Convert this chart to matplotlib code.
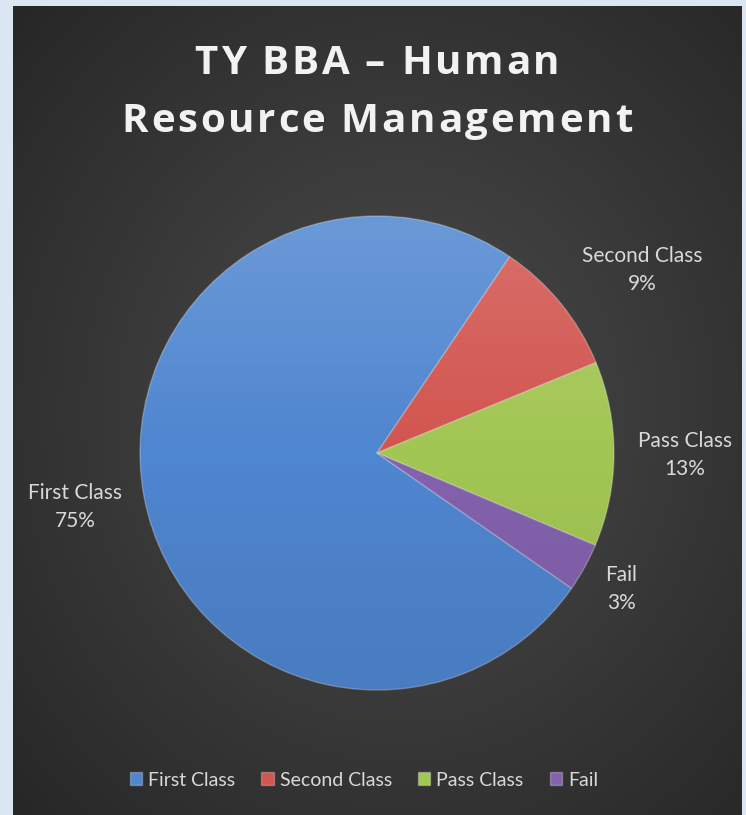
import numpy as np
import matplotlib
matplotlib.use("Agg")
import matplotlib.pyplot as plt
from matplotlib.colors import to_rgb
from matplotlib.font_manager import FontProperties

# ---- data ----
categories = ["First Class", "Second Class", "Pass Class", "Fail"]
values = [74.8, 9.3, 12.6, 3.3]
colors = ["#4f86d0", "#d2554f", "#a2c653", "#8462ae"]
title_lines = ["TY BBA \u2013 Human", "Resource Management"]

W, H, DPI = 746, 815, 100
fig = plt.figure(figsize=(W / DPI, H / DPI), dpi=DPI)
fig.patch.set_facecolor("#dce6f2")

# ---- dark gradient background ----
bx0, bx1, by0, by1 = 13, 742, 6, 815
bg = fig.add_axes([bx0 / W, 1 - by1 / H, (bx1 - bx0) / W, (by1 - by0) / H])
bg.set_axis_off()
yy, xx = np.mgrid[0:400, 0:360]
cx, cy = 190, 200
r = np.sqrt(((xx - cx) / 360) ** 2 + ((yy - cy) / 400) ** 2)
r = np.clip(r / 0.72, 0, 1)
c0 = np.array(to_rgb("#4c4c4c"))
c1 = np.array(to_rgb("#272727"))
img = c0[None, None, :] * (1 - r[..., None]) + c1[None, None, :] * r[..., None]
bg.imshow(img, aspect="auto", extent=(0, 1, 0, 1), interpolation="bilinear")
bg.set_xlim(0, 1)
bg.set_ylim(0, 1)

# ---- pie ----
R = 237
cxp, cyp = 377, 453
lim = 1.4
side = 2 * lim * R
ax = fig.add_axes([(cxp - side / 2) / W, (H - cyp - side / 2) / H, side / W, side / H])
ax.set_xlim(-lim, lim)
ax.set_ylim(-lim, lim)
ax.set_aspect("equal")
ax.set_axis_off()

total = sum(values)
labels = [f"{c}\n{round(v / total * 100):.0f}%" for c, v in zip(categories, values)]
wedges, texts = ax.pie(values, colors=colors, startangle=-34.8, counterclock=False,
                       labels=labels, labeldistance=1.30,
                       wedgeprops=dict(edgecolor=(1, 1, 1, 0.28), linewidth=1.0),
                       textprops=dict(color="#d9d9d9", fontsize=15, family="Lato",
                                      ha="center", va="center"))
# label placement (distance in radii, angle in degrees)
label_pos = [(1.294, 190.1), (1.36, 34.6), (1.30, -0.4), (1.18, -29.1)]
for t, (d, a) in zip(texts, label_pos):
    ang = np.deg2rad(a)
    t.set_position((d * np.cos(ang), d * np.sin(ang)))
    t.set_ha("center")
    t.set_va("center")
    t.set_multialignment("center")
    t.set_linespacing(1.5)

# shading overlay
gy = np.linspace(1, -1, 200)[:, None] * np.ones((1, 200))
shade = np.zeros((200, 200, 4))
top = np.clip(gy, 0, 1)
bot = np.clip(-gy, 0, 1)
shade[..., :3] = np.where(gy[..., None] > 0, 1.0, 0.0)
shade[..., 3] = 0.16 * top + 0.08 * bot
for w in wedges:
    im = ax.imshow(shade, extent=(-1, 1, -1, 1), zorder=w.get_zorder() + 0.5,
                   interpolation="bilinear")
    im.set_clip_path(w)
ax.set_xlim(-lim, lim)
ax.set_ylim(-lim, lim)

# ---- title with letter spacing ----
renderer = fig.canvas.get_renderer()
tprop = FontProperties(family="Open Sans", weight="bold", size=29)
spacing_px = 2.8


def adv(s):
    w1, _, _ = renderer.get_text_width_height_descent(s + "|", tprop, ismath=False)
    w0, _, _ = renderer.get_text_width_height_descent("|", tprop, ismath=False)
    return w1 - w0


for line, ypx in zip(title_lines, [63, 121]):
    total_w = adv(line) + spacing_px * (len(line) - 1)
    x0 = 377 - total_w / 2
    for i, ch in enumerate(line):
        if ch == " ":
            continue
        x = x0 + adv(line[:i]) + spacing_px * i
        fig.text(x / W, 1 - ypx / H, ch, ha="left", va="center", color="#f2f2f2",
                 fontproperties=tprop)

# ---- legend ----
leg = fig.legend(wedges, categories, loc="center", bbox_to_anchor=(364 / W, 1 - 780 / H),
                 ncol=4, frameon=False,
                 prop=dict(family="Lato", size=14),
                 handlelength=0.62, handleheight=0.62, handletextpad=0.32,
                 columnspacing=1.34)
for t in leg.get_texts():
    t.set_color("#d9d9d9")

fig.savefig("out.png", dpi=DPI, facecolor=fig.get_facecolor())
